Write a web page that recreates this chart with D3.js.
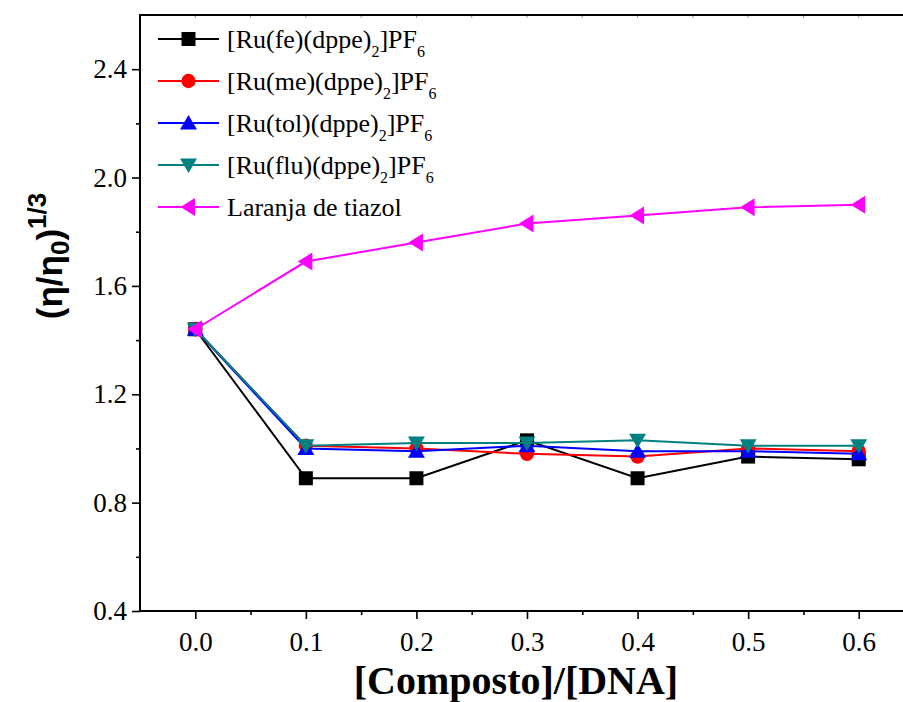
<!DOCTYPE html>
<html>
<head>
<meta charset="utf-8">
<script src="https://cdn.jsdelivr.net/npm/d3@7/dist/d3.min.js"></script>
<style>
  html, body { margin: 0; padding: 0; background: #fff; }
  svg { display: block; }
</style>
</head>
<body>
<div id="chart"></div>
<script>
// Ratio [Composto]/[DNA] on the x axis
const ratios = [0.0, 0.1, 0.2, 0.3, 0.4, 0.5, 0.6];

// Relative viscosity (η/η0)^1/3 for each compound
const feValues  = [1.44, 0.89, 0.89, 1.03, 0.89, 0.97, 0.96];
const meValues  = [1.44, 1.01, 1.00, 0.98, 0.97, 1.00, 0.99];
const tolValues = [1.44, 1.00, 0.99, 1.01, 0.99, 0.99, 0.98];
const fluValues = [1.44, 1.01, 1.02, 1.02, 1.03, 1.01, 1.01];
const tiazolValues = [1.44, 1.69, 1.76, 1.83, 1.86, 1.89, 1.90];

// Legend names: [main text, subscript, text, subscript]
const seriesNames = [
  ["[Ru(fe)(dppe)", "2", "]PF", "6"],
  ["[Ru(me)(dppe)", "2", "]PF", "6"],
  ["[Ru(tol)(dppe)", "2", "]PF", "6"],
  ["[Ru(flu)(dppe)", "2", "]PF", "6"],
  ["Laranja de tiazol"]
];

const xTicks = [0.0, 0.1, 0.2, 0.3, 0.4, 0.5, 0.6];
const xMinorTicks = [0.05, 0.15, 0.25, 0.35, 0.45, 0.55, 0.65];
const yTicks = [0.4, 0.8, 1.2, 1.6, 2.0, 2.4];
const yMinorTicks = [0.6, 1.0, 1.4, 1.8, 2.2];

const series = [
  { values: feValues,     color: "#000000", marker: "square" },
  { values: meValues,     color: "#ff0000", marker: "circle" },
  { values: tolValues,    color: "#0000ff", marker: "up" },
  { values: fluValues,    color: "#008080", marker: "down" },
  { values: tiazolValues, color: "#ff00ff", marker: "left" }
];

const W = 903, H = 702;
const serif = "'Liberation Serif', 'Times New Roman', serif";
const sans = "'Liberation Sans', Arial, sans-serif";

const svg = d3.select("#chart").append("svg")
  .attr("width", W).attr("height", H)
  .style("background", "#fff");

const x = d3.scaleLinear().domain([-0.05, 0.65]).range([140, 914]);
const y = d3.scaleLinear().domain([0.4, 2.6]).range([611, 15]);

// Marker shapes
function markerPath(type) {
  switch (type) {
    case "square": return "M-7,-7H7V7H-7Z";
    case "circle": return d3.symbol(d3.symbolCircle, 160)();
    case "up":     return "M0,-8L8.5,6.5H-8.5Z";
    case "down":   return "M0,8L8.5,-6.5H-8.5Z";
    case "left":   return "M-8,0L6.5,-9V9Z";
  }
}

// Axes: major and minor ticks
const gx = svg.append("g").attr("transform", "translate(0,611)");
gx.call(d3.axisBottom(x).tickValues(xTicks).tickSize(8).tickPadding(8)
  .tickFormat(d3.format(".1f")));
gx.append("g").call(d3.axisBottom(x).tickValues(xMinorTicks).tickSize(4).tickFormat(""));

const gy = svg.append("g").attr("transform", "translate(140,0)");
gy.call(d3.axisLeft(y).tickValues(yTicks).tickSize(8).tickPadding(5)
  .tickFormat(d3.format(".1f")));
gy.append("g").call(d3.axisLeft(y).tickValues(yMinorTicks).tickSize(4).tickFormat(""));

svg.selectAll(".domain").remove();
svg.selectAll(".tick line").attr("stroke", "#000").attr("stroke-width", 1.6);
svg.selectAll(".tick text")
  .attr("font-family", serif).attr("font-size", 27).attr("fill", "#000");
gx.selectAll(".tick text").attr("dy", "0.9em");

// Small ticks along the top edge
svg.append("g").selectAll("line")
  .data(xTicks.concat(xMinorTicks))
  .join("line")
  .attr("x1", d => x(d)).attr("x2", d => x(d))
  .attr("y1", 15).attr("y2", 18)
  .attr("stroke", "#999").attr("stroke-width", 1);

// Frame
svg.append("rect")
  .attr("x", x(-0.05)).attr("y", y(2.6))
  .attr("width", x(0.65) - x(-0.05)).attr("height", y(0.4) - y(2.6))
  .attr("fill", "none").attr("stroke", "#000").attr("stroke-width", 2);

// Lines and markers
const line = d3.line().x((d, i) => x(ratios[i])).y(d => y(d));
series.forEach(s => {
  const g = svg.append("g");
  g.append("path").datum(s.values)
    .attr("d", line).attr("fill", "none")
    .attr("stroke", s.color).attr("stroke-width", 2);
  g.selectAll("path.m").data(s.values).join("path")
    .attr("class", "m")
    .attr("d", markerPath(s.marker))
    .attr("transform", (d, i) => `translate(${x(ratios[i])},${y(d)})`)
    .attr("fill", s.color);
});

// Legend
const legend = svg.append("g");
series.forEach((s, i) => {
  const cy = 39 + i * 42;
  const row = legend.append("g");
  row.append("line").attr("x1", 158).attr("x2", 219).attr("y1", cy).attr("y2", cy)
    .attr("stroke", s.color).attr("stroke-width", 2);
  row.append("path").attr("d", markerPath(s.marker))
    .attr("transform", `translate(188.5,${cy})`).attr("fill", s.color);
  const t = row.append("text").attr("x", 227).attr("y", cy + 9)
    .attr("font-family", serif).attr("font-size", 26).attr("fill", "#000");
  const parts = seriesNames[i];
  parts.forEach((p, k) => {
    if (k % 2 === 0) {
      t.append("tspan").attr("dy", k === 0 ? 0 : -9).text(p);
    } else {
      t.append("tspan").attr("dy", 9).attr("font-size", 16).text(p);
    }
  });
});

// Axis titles
svg.append("text")
  .attr("x", 516).attr("y", 694)
  .attr("text-anchor", "middle")
  .attr("font-family", serif).attr("font-weight", "bold").attr("font-size", 40)
  .text("[Composto]/[DNA]");

const yt = svg.append("text")
  .attr("transform", "translate(62,256) rotate(-90)")
  .attr("text-anchor", "middle")
  .attr("font-family", sans).attr("font-weight", "bold").attr("font-size", 35);
yt.append("tspan").text("(η/η");
yt.append("tspan").attr("font-size", 26).attr("dy", 7).text("0");
yt.append("tspan").attr("dy", -7).text(")");
yt.append("tspan").attr("font-size", 26).attr("dy", -16).text("1/3");
</script>
</body>
</html>
